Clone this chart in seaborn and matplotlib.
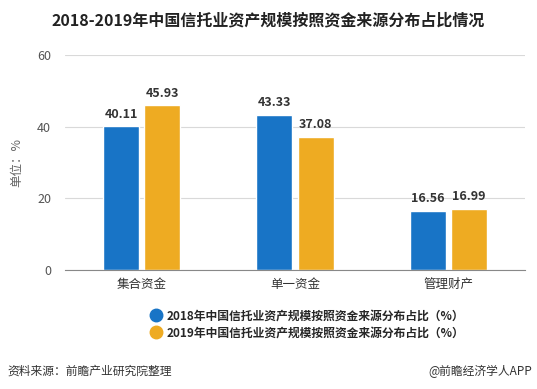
import numpy as np
import pandas as pd
import matplotlib
matplotlib.use("Agg")
import matplotlib.pyplot as plt
import seaborn as sns
from matplotlib.lines import Line2D

categories = ['集合资金', '单一资金', '管理财产']
values_2018 = [40.11, 43.33, 16.56]
values_2019 = [45.93, 37.08, 16.99]
series = ['2018年中国信托业资产规模按照资金来源分布占比（%）',
          '2019年中国信托业资产规模按照资金来源分布占比（%）']
yticks = [0, 20, 40, 60]

sns.set_style('white')
plt.rcParams['font.family'] = ['Noto Sans CJK SC', 'DejaVu Sans']

colors = ['#1874C6', '#EEAB22']

df = pd.DataFrame({
    'cat': categories * 2,
    'val': values_2018 + values_2019,
    'series': [series[0]] * 3 + [series[1]] * 3,
})

fig = plt.figure(figsize=(5.37, 3.89), dpi=100)
ax = fig.add_axes([0.121, 0.306, 0.857, 0.553])

sns.barplot(data=df, x='cat', y='val', hue='series', palette=colors,
            width=0.54, gap=0.13, ax=ax, legend=False, saturation=1)

for cont in ax.containers:
    ax.bar_label(cont, fmt='%.2f', padding=4, fontsize=9, fontweight='bold',
                 color='#333333')

ax.set_ylim(0, 60)
ax.set_yticks(yticks)
ax.set_xlim(-0.5, 2.5)
ax.yaxis.grid(True, color='#d9d9d9', linewidth=0.8)
ax.set_axisbelow(True)
for s in ['top', 'right', 'left']:
    ax.spines[s].set_visible(False)
ax.spines['bottom'].set_color('#888888')
ax.tick_params(axis='y', length=6, color='#d9d9d9', labelsize=9, labelcolor='#555555', pad=4)
ax.tick_params(axis='x', length=0, labelsize=9, labelcolor='#333333', pad=6)
ax.set_xlabel('')
ax.set_ylabel('单位：%', fontsize=9, color='#666666', labelpad=10)

fig.text(0.5, 0.948, '2018-2019年中国信托业资产规模按照资金来源分布占比情况',
         ha='center', va='center', fontsize=11.5, fontweight='bold', color='#222222')

handles = [Line2D([0], [0], marker='o', linestyle='', markersize=9,
                  markerfacecolor=c, markeredgecolor=c) for c in colors]
fig.legend(handles, series, loc='center left', bbox_to_anchor=(0.27, 0.166),
           frameon=False, fontsize=8.5, handletextpad=0.4, labelspacing=0.35,
           prop={'weight': 'bold', 'size': 8.5}, borderaxespad=0, handlelength=1)

fig.text(0.013, 0.045, '资料来源：前瞻产业研究院整理', ha='left', va='center',
         fontsize=8.5, color='#333333')
fig.text(0.99, 0.045, '@前瞻经济学人APP', ha='right', va='center',
         fontsize=8.5, color='#333333')

fig.savefig('out.png', dpi=100)
